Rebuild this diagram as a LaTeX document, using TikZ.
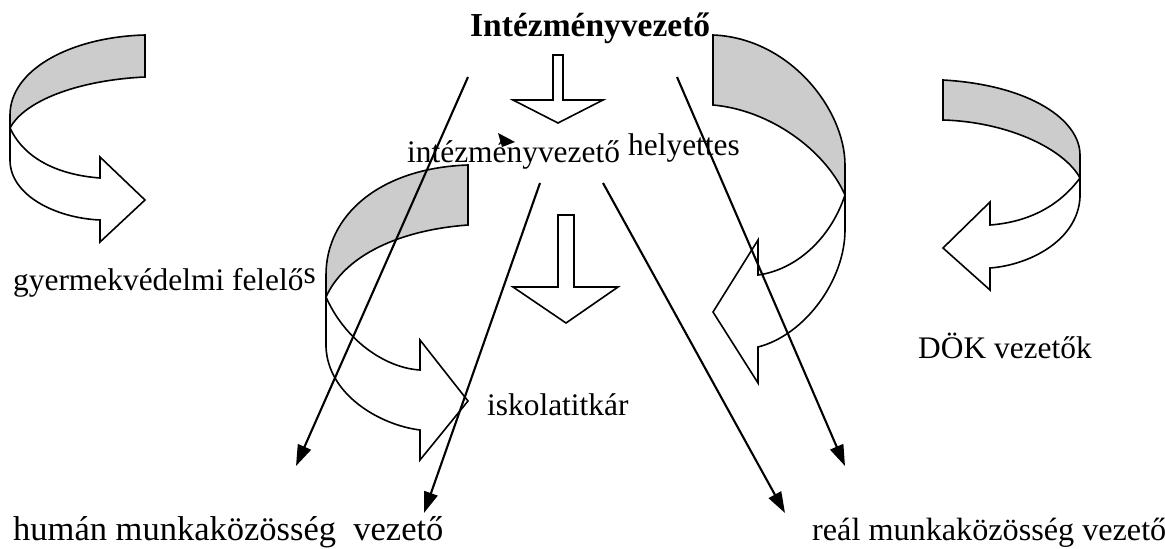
\documentclass[tikz,border=0pt]{standalone}
\usepackage{fontspec}
\setmainfont{Liberation Serif}
\usetikzlibrary{arrows.meta}
\begin{document}
\begin{tikzpicture}[x=1pt,y=-1pt,
  band/.style={draw=black, line width=1.6pt, line join=miter},
  back/.style={band, fill=gray!40},
  front/.style={band, fill=white},
  blockarrow/.style={band, fill=white},
  link/.style={line width=2.1pt, -{Triangle[length=21pt,width=14pt]}},
  lbl/.style={inner sep=0pt, anchor=base west, font=\fontsize{31.4}{36}\selectfont},
  title/.style={inner sep=0pt, anchor=base west, font=\fontsize{33.5}{38}\selectfont\bfseries},
]
\useasboundingbox (0,0) rectangle (1165,549);

% ---- curved arrow, upper left ----
\draw[back] (145,35) .. controls (70,37) and (10,70) .. (10,115) -- (10,128)
  .. controls (25,100) and (80,80) .. (145,77) -- cycle;
\draw[front] (10,128) .. controls (25,160) and (60,175) .. (100,178)
  -- (100,157) -- (145,200) -- (100,242) -- (100,220)
  .. controls (55,218) and (10,195) .. (10,160) -- cycle;

% ---- curved arrow, middle left ----
\draw[back] (468,165) .. controls (380,168) and (326,215) .. (326,275) -- (326,297)
  .. controls (345,255) and (400,230) .. (468,225) -- cycle;
\draw[front] (326,297) .. controls (345,340) and (385,368) .. (420,370)
  -- (420,340) -- (468,401) -- (420,460) -- (420,430)
  .. controls (380,425) and (328,395) .. (326,347) -- cycle;

% ---- curved arrow, middle right ----
\draw[back] (713,35) .. controls (790,38) and (845,110) .. (845,165) -- (845,195)
  .. controls (825,150) and (770,110) .. (713,105) -- cycle;
\draw[front] (845,195) .. controls (830,240) and (795,270) .. (758,275)
  -- (758,240) -- (713,312) -- (758,383) -- (758,347)
  .. controls (805,335) and (845,280) .. (845,230) -- cycle;

% ---- curved arrow, far right ----
\draw[back] (943,80) .. controls (1030,85) and (1080,120) .. (1080,155) -- (1080,178)
  .. controls (1065,150) and (1010,122) .. (943,120) -- cycle;
\draw[front] (1080,178) .. controls (1060,205) and (1030,222) .. (990,225)
  -- (990,202) -- (943,248) -- (990,290) -- (990,268)
  .. controls (1030,265) and (1078,240) .. (1080,197) -- cycle;

% ---- straight block arrows ----
\draw[blockarrow] (553,55) -- (563,55) -- (563,100) -- (603,100) -- (558,123)
  -- (513,100) -- (553,100) -- cycle;
\draw[blockarrow] (558,215) -- (574,215) -- (574,287) -- (618,287) -- (566,323)
  -- (513,287) -- (558,287) -- cycle;

% ---- labels ----
\node[title] (head) at (470,36) {Intézményvezető};
\node[lbl] (deputy) at (407,162) {intézményvezető};
\node[lbl] (deputy2) at (628,155) {helyettes};
\node[lbl] (child) at (13,290) {gyermekvédelmi felelő\raisebox{7pt}{s}};
\node[lbl] (secr) at (487,415) {iskolatitkár};
\node[lbl] (dok) at (918,358) {DÖK vezetők};
\node[lbl, font=\fontsize{34.5}{40}\selectfont] (hum) at (13,540) {humán munkaközösség\ \ vezető};
\node[lbl, font=\fontsize{32.2}{37}\selectfont] (real) at (812,540) {reál munkaközösség vezető};

% ---- connectors ----
\coordinate (a1) at (468,77);  \coordinate (b1) at (296,466);
\coordinate (a2) at (540,183); \coordinate (b2) at (424,513);
\coordinate (a3) at (603,183); \coordinate (b3) at (785,513);
\coordinate (a4) at (677,77);  \coordinate (b4) at (845,466);
\draw[link] (a1) -- (b1);
\draw[link] (a2) -- (b2);
\draw[link] (a3) -- (b3);
\draw[link] (a4) -- (b4);

% small stray arrow tip
\coordinate (t1) at (498,133);
\coordinate (t2) at (515,142);
\coordinate (t3) at (502,147);
\fill (t1) -- (t2) -- (t3) -- cycle;
\end{tikzpicture}
\end{document}
